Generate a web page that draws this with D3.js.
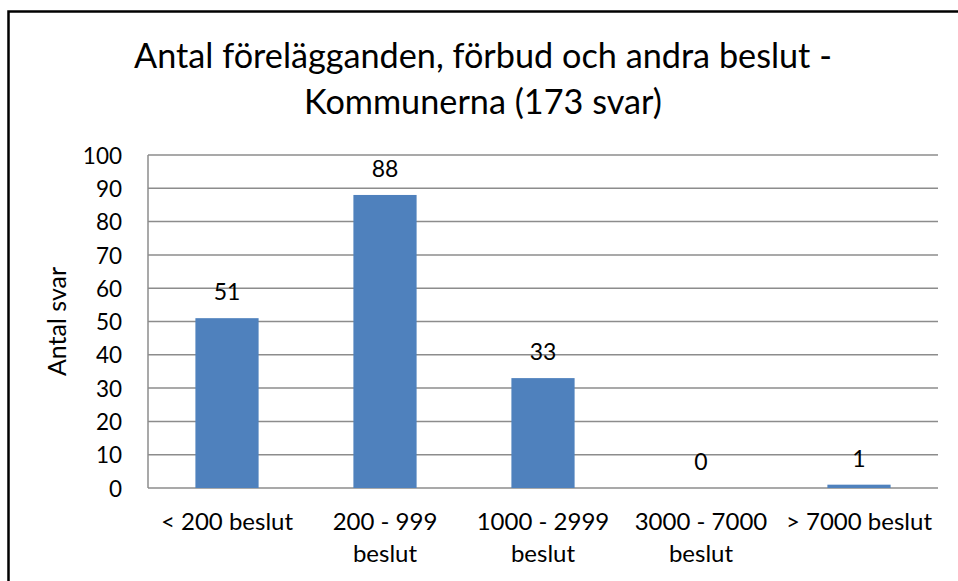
<!DOCTYPE html>
<html>
<head>
<meta charset="utf-8">
<script src="https://cdn.jsdelivr.net/npm/d3@7"></script>
<style>
html,body{margin:0;padding:0;background:#fff;}
svg{display:block;}
text{font-family:Lato, "Open Sans", sans-serif;fill:#000;}
</style>
</head>
<body>
<svg id="c" width="958" height="581"></svg>
<script>
const titleLines = ["Antal förelägganden, förbud och andra beslut -", "Kommunerna (173 svar)"];
const categories = ["< 200 beslut", "200 - 999\nbeslut", "1000 - 2999\nbeslut", "3000 - 7000\nbeslut", "> 7000 beslut"];
const values = [51, 88, 33, 0, 1];
const yTicks = [0, 10, 20, 30, 40, 50, 60, 70, 80, 90, 100];
const yTitle = "Antal svar";

(function () {
const svg = d3.select("#c");
const W = 958, H = 581;
svg.append("rect").attr("width", W).attr("height", H).attr("fill", "#fff");
// frame
svg.append("rect").attr("x", 8.5).attr("y", 11.5).attr("width", 1000).attr("height", 1000)
  .attr("fill", "none").attr("stroke", "#000").attr("stroke-width", 2.5);

const pL = 148, pR = 938, pT = 155, pB = 488;
const x = d3.scaleBand().domain(categories).range([pL, pR]).paddingInner(0.6).paddingOuter(0.3);
const y = d3.scaleLinear().domain([0, 100]).range([pB, pT]);

// gridlines
svg.append("g").selectAll("line").data(yTicks).join("line")
  .attr("x1", pL).attr("x2", pR)
  .attr("y1", d => y(d)).attr("y2", d => y(d))
  .attr("stroke", "#8c8c8c").attr("stroke-width", 1.5);
// left axis line
svg.append("line").attr("x1", pL).attr("x2", pL).attr("y1", pT).attr("y2", pB)
  .attr("stroke", "#8c8c8c").attr("stroke-width", 1.5);

// y axis labels via d3 axis
const yAxis = d3.axisLeft(y).tickValues(yTicks).tickSize(0).tickPadding(26);
const ya = svg.append("g").attr("transform", `translate(${pL},0)`).call(yAxis);
ya.select(".domain").remove();
ya.selectAll("text").style("font-family", "Lato, sans-serif").style("font-size", "22.5px").attr("fill", "#000").attr("dy", "0.36em");

// bars
svg.append("g").selectAll("rect").data(values).join("rect")
  .attr("x", (d, i) => x(categories[i]))
  .attr("width", x.bandwidth())
  .attr("y", d => y(d))
  .attr("height", d => y(0) - y(d))
  .attr("fill", "#4F81BD");

// data labels
svg.append("g").selectAll("text").data(values).join("text")
  .attr("x", (d, i) => x(categories[i]) + x.bandwidth() / 2)
  .attr("y", d => y(d) - 18)
  .attr("text-anchor", "middle")
  .style("font-size", "23px")
  .text(d => d);

// x labels
const xl = svg.append("g").selectAll("text").data(categories).join("text")
  .attr("x", d => x(d) + x.bandwidth() / 2)
  .attr("y", 530)
  .attr("text-anchor", "middle")
  .style("font-size", "24px");
xl.each(function(d) {
  const lines = d.split("\n");
  const t = d3.select(this);
  lines.forEach((l, i) => {
    t.append("tspan").attr("x", t.attr("x")).attr("dy", i === 0 ? 0 : 32).text(l);
  });
});

// y title
svg.append("text")
  .attr("transform", `translate(66,${(pT + pB) / 2}) rotate(-90)`)
  .attr("text-anchor", "middle")
  .style("font-size", "25px")
  .text(yTitle);

// title
const tl = svg.append("g");
titleLines.forEach((l, i) => {
  tl.append("text").attr("x", 483).attr("y", 68 + i * 46)
    .attr("text-anchor", "middle").style("font-size", "33px").text(l);
});
const t0 = tl.select("text").node();
const w0 = t0.getComputedTextLength();
const fs = 33 * 698 / w0;
tl.selectAll("text").style("font-size", Math.min(36, fs) + "px");
})();
</script>
</body>
</html>
